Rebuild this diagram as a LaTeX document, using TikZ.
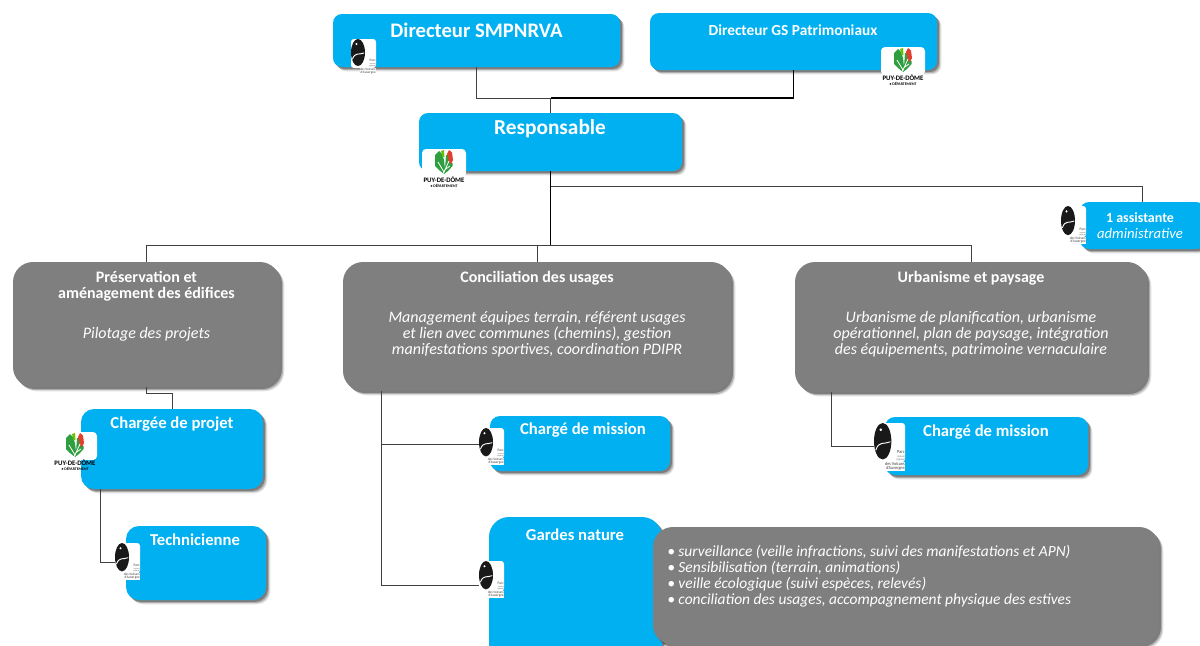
\documentclass[tikz,border=0pt]{standalone}
\usepackage{fontspec}
\setmainfont{Carlito}
\usetikzlibrary{shadows,calc}
\definecolor{bleu}{HTML}{00B0F0}
\definecolor{gris}{HTML}{7F7F7F}
\definecolor{feuille}{HTML}{2E9E3F}
\definecolor{rouge}{HTML}{E0402E}
\newcommand{\fs}[1]{\fontsize{#1}{#1}\selectfont}
\tikzset{
 x=0.75pt,y=-0.75pt,
 softshadow/.style={
  drop shadow={shadow xshift=3.2pt,shadow yshift=-3.2pt,opacity=.12,fill=black},
  drop shadow={shadow xshift=2.4pt,shadow yshift=-2.4pt,opacity=.2,fill=black},
  drop shadow={shadow xshift=1.5pt,shadow yshift=-1.5pt,opacity=.3,fill=black}},
 boxbase/.style={softshadow,inner sep=0pt,outer sep=0pt},
 bleubox/.style={boxbase,fill=bleu},
 grisbox/.style={boxbase,fill=gris},
 titre/.style={text=white,font=\bfseries,align=center,inner sep=0pt},
 corps/.style={text=white,align=center,inner sep=0pt},
 trait/.style={draw=black!75,line width=0.75pt},
 fort/.style={draw=black,line width=1.35pt},
 logotxt/.style={inner sep=0pt,text=black,transform shape},
}
% name, x0, y0, x1, y1, radius, style
\newcommand{\bx}[7]{%
 \pgfmathsetlengthmacro{\bw}{(#4-#2)*0.75pt}%
 \pgfmathsetlengthmacro{\bh}{(#5-#3)*0.75pt}%
 \pgfmathsetlengthmacro{\br}{#6*0.75pt}%
 \node[#7,rectangle,rounded corners=\br,minimum width=\bw,minimum height=\bh]
   (#1) at ({(#2+#4)/2},{(#3+#5)/2}) {};}
% Parc logo in a 25x35 cell: prefix, x0, y0, xscale, yscale
\newcommand{\parc}[5]{%
 \begin{scope}[shift={(#2,#3)},xscale=#4,yscale=#5]
  \fill[white,rounded corners=2.2pt] (0,0) rectangle (25,29);
  \fill[white] (9,29) rectangle (25,35.5);
  \fill[black!90] (7,13.5) ellipse [x radius=7,y radius=13.5];
  \draw[white,line width=0.7pt,line cap=round] (1.5,20) .. controls (4,13) and (8,16) .. (13,14);
  \fill[white] (5.5,5) circle [radius=1.1];
  \node[logotxt,font=\fs{2.6},anchor=east,text=black!75] (#1a) at (25,21.5) {Parc};
  \node[logotxt,font=\fs{1.5},anchor=east,text=black!60] (#1b) at (25,24.5) {naturel};
  \node[logotxt,font=\fs{1.5},anchor=east,text=black!60] (#1c) at (25,27) {régional};
  \node[logotxt,font=\fs{2.5},anchor=east,text=black!75] (#1d) at (25,30) {des Volcans};
  \node[logotxt,font=\fs{2.5},anchor=east,text=black!75] (#1e) at (25,33.3) {d'Auvergne};
 \end{scope}}
% Departement logo in a 46x38 cell: prefix, x0, y0, scale
\newcommand{\puy}[4]{%
 \begin{scope}[shift={(#2,#3)},scale=#4]
  \fill[white,rounded corners=3pt] (1,0) rectangle (45,28);
  \fill[feuille] (14,6) -- (18,2) -- (21,5) -- (23,11) -- (24,20) -- (23,25) -- (18,21) -- (14,17) -- cycle;
  \fill[feuille] (24,20) -- (25,6) -- (27,6) -- (29,14) -- (31.5,14) -- (31.5,17) -- (27,22) -- (23,25) -- cycle;
  \fill[rouge] (26,5) -- (28,1) -- (31,3.5) -- (32,11) -- (30,15) -- (28,13) -- cycle;
  \fill[green!60!black!60!yellow] (20,2) -- (23,1) -- (23.5,8) -- (21.5,8) -- cycle;
  \draw[white,line width=0.6pt] (20,28) -- (23,23) -- (28,12) (23,23) -- (17,13) (23.5,21) -- (29,17);
  \node[logotxt,font=\fs{5.1}\bfseries] (#1a) at (23,31) {PUY-DE-DÔME};
  \node[logotxt,font=\fs{2.9}\bfseries] (#1b) at (23,36.5) {\textbullet{} DÉPARTEMENT};
 \end{scope}}
\begin{document}
\begin{tikzpicture}
\useasboundingbox (0,0) rectangle (1200,646);
\clip (0,0) rectangle (1200,646);
% boxes
\bx{dirs}{333}{14}{620}{67}{9}{bleubox}
\bx{dirg}{650}{13}{937}{70}{9}{bleubox}
\bx{resp}{419}{113}{682}{171}{9}{bleubox}
\bx{assi}{1080}{202}{1205}{249}{9}{bleubox}
\bx{pres}{13}{262}{280}{387}{20}{grisbox}
\bx{conc}{343}{262}{731}{391}{20}{grisbox}
\bx{urba}{795}{262}{1147}{392}{20}{grisbox}
\bx{char}{81}{409}{263}{489}{13}{bleubox}
\bx{tech}{126}{526}{266}{600}{13}{bleubox}
\bx{mis1}{490}{416}{670}{471}{10}{bleubox}
\bx{mis2}{885}{417}{1088}{475}{10}{bleubox}
\bx{gard}{489}{517}{662}{676}{20}{bleubox}
\bx{list}{653}{527}{1159}{645}{20}{grisbox}
% junctions
\coordinate (jhaut) at (550.5,98);
\coordinate (jbas) at (550.5,245);
\coordinate (jassi) at (550.5,186);
\coordinate (jpres) at (146.5,393);
\coordinate (lchar) at (100,489);
\coordinate (ltech) at (120,562);
\coordinate (lconc) at (381,391);
\coordinate (lmis1) at (484,444);
\coordinate (lgard) at (484,585);
\coordinate (lurba) at (831,392);
\coordinate (lmis2) at (880,446);
% connectors
\draw[trait] (dirs.south) |- (jhaut);
\draw[fort] (dirg.south) |- (jhaut);
\draw[trait] (jhaut) -- (resp.north);
\draw[fort] (resp.south) -- (jbas);
\draw[trait] (jassi) -| (assi.north);
\draw[trait] (pres.north |- jbas) -- (urba.north |- jbas);
\draw[trait] (jbas -| pres.north) -- (pres.north);
\draw[trait] (jbas -| conc.north) -- (conc.north);
\draw[trait] (jbas -| urba.north) -- (urba.north);
\draw[trait] (pres.south) -- (jpres) -| (char.north);
\draw[trait] (lchar) |- (ltech);
\draw[trait] (lconc) |- (lmis1);
\draw[trait] (lconc) |- (lgard);
\draw[trait] (lurba) |- (lmis2);
% redraw boxes' fronts are unaffected: connectors stop at the edges
% logos
\parc{pa}{351}{39}{1}{1}
\puy{pb}{880}{47}{1}
\puy{pc}{421}{149}{1}
\parc{pd}{1061}{206}{1}{1.08}
\puy{pe}{52}{432}{1}
\parc{pf}{115}{543}{1}{1.05}
\parc{pg}{479}{428}{1}{1.05}
\parc{ph}{479}{561}{1}{1.05}
\parc{pi}{874}{423}{1.24}{1.35}
% texts
\node[titre,font=\fs{15.5}\bfseries] (t1) at (476.5,30) {Directeur SMPNRVA};
\node[titre,font=\fs{11.5}\bfseries] (t2) at (793,30.5) {Directeur GS Patrimoniaux};
\node[titre,font=\fs{16}\bfseries] (t3) at (550,129) {Responsable};
\node[corps] (t4) at (1140,226) {\fontsize{10.5}{15}\selectfont\bfseries 1 assistante\\[0pt]\fontsize{11}{15}\selectfont\itshape administrative};
\node[corps,anchor=north] (t5) at (146.5,271) {\fontsize{12}{16.5}\selectfont\bfseries Préservation et\\\fontsize{12}{16.5}\selectfont\bfseries aménagement des édifices\\[18pt]\fontsize{12}{16.5}\selectfont\itshape Pilotage des projets};
\node[corps,anchor=north] (t6) at (537,271) {\fontsize{12}{16.5}\selectfont\bfseries Conciliation des usages\\[18pt]\fontsize{12}{16.5}\selectfont\itshape Management équipes terrain, référent usages\\\fontsize{12}{16.5}\selectfont\itshape et lien avec communes (chemins), gestion\\\fontsize{12}{16.5}\selectfont\itshape manifestations sportives, coordination PDIPR};
\node[corps,anchor=north] (t7) at (971,271) {\fontsize{12}{16.5}\selectfont\bfseries Urbanisme et paysage\\[18pt]\fontsize{12}{16.5}\selectfont\itshape Urbanisme de planification, urbanisme\\\fontsize{12}{16.5}\selectfont\itshape opérationnel, plan de paysage, intégration\\\fontsize{12}{16.5}\selectfont\itshape des équipements, patrimoine vernaculaire};
\node[titre,font=\fs{12.5}\bfseries] (t8) at (172,424) {Chargée de projet};
\node[titre,font=\fs{12.5}\bfseries] (t9) at (195,540) {Technicienne};
\node[titre,font=\fs{12.5}\bfseries] (t10) at (583,430) {Chargé de mission};
\node[titre,font=\fs{12.5}\bfseries] (t11) at (986,432) {Chargé de mission};
\node[titre,font=\fs{12.5}\bfseries] (t12) at (575,535) {Gardes nature};
\node[corps,align=left,anchor=north west] (t13) at (667,545) {\fontsize{11.6}{15.8}\selectfont\itshape • surveillance (veille infractions, suivi des manifestations et APN)\\\fontsize{11.6}{15.8}\selectfont\itshape • Sensibilisation (terrain, animations)\\\fontsize{11.6}{15.8}\selectfont\itshape • veille écologique (suivi espèces, relevés)\\\fontsize{11.6}{15.8}\selectfont\itshape • conciliation des usages, accompagnement physique des estives};
\end{tikzpicture}
\end{document}
